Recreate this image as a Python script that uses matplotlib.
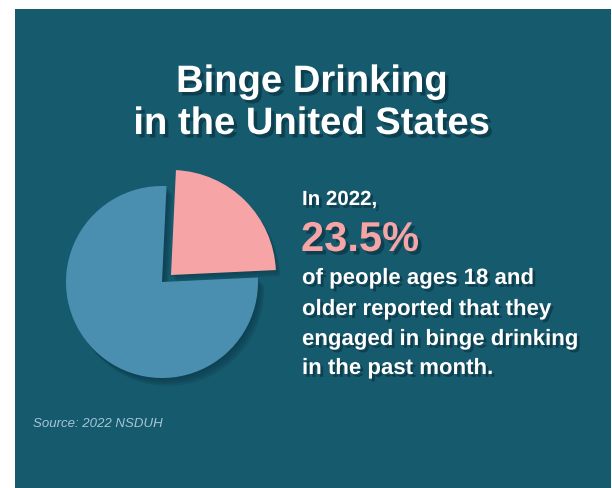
"""Binge drinking infographic: exploded pie with a text callout."""

import matplotlib

matplotlib.use("Agg")
import matplotlib.pyplot as plt
import matplotlib.patheffects as pe
from matplotlib import font_manager
from matplotlib.patches import Rectangle, Wedge
import numpy as np

# share of adults (18+) reporting binge drinking in the past month, and the rest
SHARE_LABELS = ["Binge drinking", "Other adults"]
SHARE_VALUES = [23.5, 76.5]

TITLE_LINES = ["Binge Drinking", "in the United States"]
LEAD_TEXT = "In 2022,"
HEADLINE_TEXT = "23.5%"
BODY_LINES = [
    "of people ages 18 and",
    "older reported that they",
    "engaged in binge drinking",
    "in the past month.",
]
SOURCE_TEXT = "Source: 2022 NSDUH"

BACKGROUND = "#165a6e"
SHADOW = "#0a3645"
BLUE = "#4b8fb0"
PINK = "#f6a4a6"
SOURCE_COLOR = "#a6c6d6"

WIDTH, HEIGHT = 612, 489

available = {font.name for font in font_manager.fontManager.ttflist}
WIDE_FONT = "Liberation Sans" if "Liberation Sans" in available else "DejaVu Sans"
NARROW_FONT = (
    "Liberation Sans Narrow" if "Liberation Sans Narrow" in available else WIDE_FONT
)
NARROW_SCALE = 1.0 if NARROW_FONT != WIDE_FONT else 0.82


def text_shadow(offset=(2, -2), alpha=0.75):
    return [
        pe.SimplePatchShadow(offset=offset, shadow_rgbFace=SHADOW, alpha=alpha),
        pe.Normal(),
    ]


def draw_wedge(axis, center, radius, theta1, theta2, color, shadow_steps):
    # soft drop shadow built from a few translucent copies
    for step in range(shadow_steps, 0, -1):
        axis.add_patch(
            Wedge(
                (center[0] + 1.5 * step, center[1] - 2.0 * step),
                radius,
                theta1,
                theta2,
                facecolor=SHADOW,
                edgecolor="none",
                alpha=0.2,
            )
        )
    axis.add_patch(
        Wedge(center, radius, theta1, theta2, facecolor=color, edgecolor="none")
    )


def main():
    figure = plt.figure(figsize=(WIDTH / 100, HEIGHT / 100), dpi=100)
    figure.patch.set_facecolor("white")
    axis = figure.add_axes([0, 0, 1, 1])
    axis.set_xlim(0, WIDTH)
    axis.set_ylim(0, HEIGHT)
    axis.axis("off")

    axis.add_patch(Rectangle((15, 0), 596, HEIGHT - 10, facecolor=BACKGROUND))

    # pie angles from the data; highlighted slice centred on 45 degrees
    spans = np.array(SHARE_VALUES) / sum(SHARE_VALUES) * 360.0
    pink_start = 45.0 - spans[0] / 2
    pink_end = 45.0 + spans[0] / 2
    draw_wedge(axis, (162, 206), 96, pink_end, pink_start + 360.0, BLUE, 4)
    draw_wedge(axis, (171, 213), 105, pink_start, pink_end, PINK, 3)

    for text, baseline in zip(TITLE_LINES, (396, 354)):
        axis.text(
            312,
            baseline,
            text,
            ha="center",
            va="baseline",
            color="white",
            fontsize=27.5,
            fontweight="bold",
            family=WIDE_FONT,
            path_effects=text_shadow((2.5, -2.5)),
        )

    axis.text(
        302,
        283,
        LEAD_TEXT,
        ha="left",
        va="baseline",
        color="white",
        fontsize=18 * NARROW_SCALE,
        fontweight="bold",
        family=NARROW_FONT,
        path_effects=text_shadow(),
    )
    axis.text(
        301,
        237,
        HEADLINE_TEXT,
        ha="left",
        va="baseline",
        color=PINK,
        fontsize=30,
        fontweight="bold",
        family=WIDE_FONT,
        path_effects=text_shadow((2.5, -2.5)),
    )
    for text, baseline in zip(BODY_LINES, (204, 173, 143, 114)):
        axis.text(
            302,
            baseline,
            text,
            ha="left",
            va="baseline",
            color="white",
            fontsize=19.5 * NARROW_SCALE,
            fontweight="bold",
            family=NARROW_FONT,
            path_effects=text_shadow(),
        )

    axis.text(
        33,
        62,
        SOURCE_TEXT,
        ha="left",
        va="baseline",
        color=SOURCE_COLOR,
        fontsize=9.5,
        fontstyle="italic",
        family=WIDE_FONT,
    )

    figure.savefig("out.png", dpi=100, facecolor=figure.get_facecolor())
    plt.close(figure)


if __name__ == "__main__":
    main()
